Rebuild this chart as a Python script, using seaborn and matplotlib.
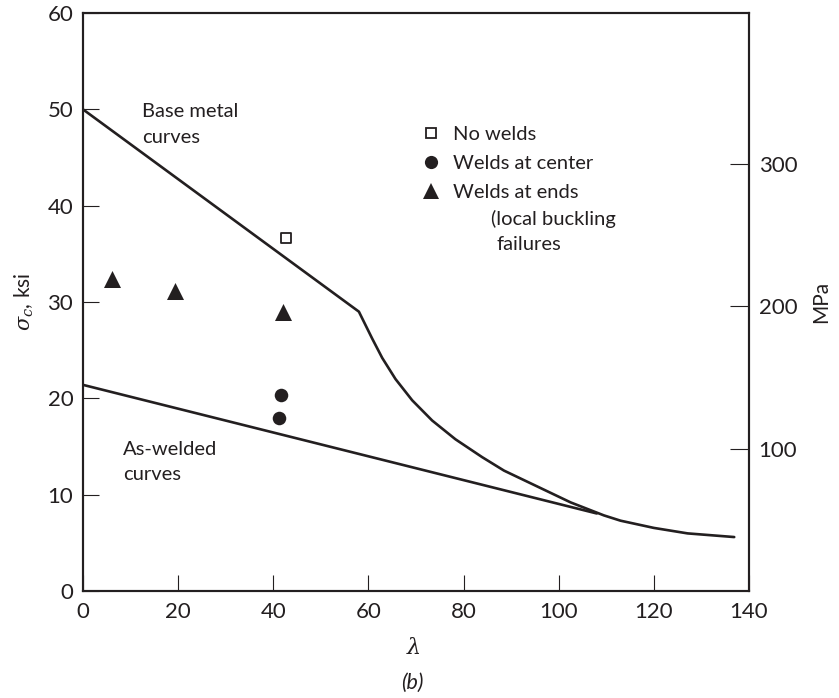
import matplotlib
matplotlib.use("Agg")
import matplotlib.pyplot as plt
from matplotlib.lines import Line2D
import seaborn as sns
import pandas as pd

# ---- data ----
base_lambda = [0, 58, 60.8, 62.9, 65.7, 69.2, 73.4, 78.3, 83.9, 88.5,
               95.5, 102.5, 109.5, 113, 120, 127.1, 136.9]
base_sigma = [50.0, 29.0, 26.2, 24.2, 22.0, 19.8, 17.7, 15.75, 13.9, 12.5,
              10.85, 9.2, 7.85, 7.3, 6.55, 5.98, 5.6]

welded_lambda = [0, 108]
welded_sigma = [21.4, 8.05]

nowelds_lambda = [42.7]
nowelds_sigma = [36.6]

center_lambda = [41.7, 41.3]
center_sigma = [20.3, 18.0]

ends_lambda = [6.1, 19.4, 42.1]
ends_sigma = [32.4, 31.1, 29.0]

x_ticks = [0, 20, 40, 60, 80, 100, 120, 140]
y_ticks = [0, 10, 20, 30, 40, 50, 60]
mpa_ticks = [100, 200, 300]
ksi_to_mpa = 6.76

INK = "#231f20"

sns.set_theme(style="ticks")
plt.rcParams["font.family"] = ["Lato", "DejaVu Sans"]
plt.rcParams["mathtext.fontset"] = "dejavuserif"

fig = plt.figure(figsize=(8.39, 6.98), dpi=100)
ax = fig.add_axes([0.0989, 0.1533, 0.7938, 0.828])

base_df = pd.DataFrame({"lam": base_lambda, "sig": base_sigma})
weld_df = pd.DataFrame({"lam": welded_lambda, "sig": welded_sigma})
sns.lineplot(data=base_df, x="lam", y="sig", ax=ax, color=INK, lw=1.9,
             sort=False, estimator=None)
sns.lineplot(data=weld_df, x="lam", y="sig", ax=ax, color=INK, lw=1.9,
             sort=False, estimator=None)

sns.scatterplot(x=nowelds_lambda, y=nowelds_sigma, ax=ax, marker="s", s=55,
                facecolor="white", edgecolor=INK, linewidth=1.3, zorder=5)
sns.scatterplot(x=center_lambda, y=center_sigma, ax=ax, marker="o", s=95,
                color=INK, edgecolor=INK, linewidth=0, zorder=5)
sns.scatterplot(x=ends_lambda, y=ends_sigma, ax=ax, marker="^", s=150,
                color=INK, edgecolor=INK, linewidth=0, zorder=5)

ax.set_xlim(0, 140)
ax.set_ylim(0, 60)
ax.set_xticks(x_ticks)
ax.set_yticks(y_ticks)
ax.tick_params(axis="both", direction="in", length=11.5, width=0.8,
               colors=INK, labelsize=16, pad=8, top=False, right=False)
ax.tick_params(axis="y", pad=7)
for sp in ax.spines.values():
    sp.set_linewidth(1.5)
    sp.set_color(INK)

ax.set_xlabel("")
ax.set_ylabel(r"$\sigma_c$, ksi", fontsize=15, color=INK, labelpad=8)

ax2 = ax.twinx()
ax2.set_ylim(0, 60 * ksi_to_mpa)
ax2.set_yticks(mpa_ticks)
ax2.tick_params(axis="y", direction="in", length=14, width=0.8, colors=INK,
                labelsize=16, pad=7)
for sp in ax2.spines.values():
    sp.set_linewidth(1.5)
    sp.set_color(INK)
ax2.set_ylabel("MPa", fontsize=15, color=INK, labelpad=10)

# curve annotations
ax.text(12.4, 49.2, "Base metal", fontsize=14.5, color=INK, va="baseline")
ax.text(12.4, 46.55, "curves", fontsize=14.5, color=INK, va="baseline")
ax.text(8.5, 14.1, "As-welded", fontsize=14.5, color=INK, va="baseline")
ax.text(8.5, 11.5, "curves", fontsize=14.5, color=INK, va="baseline")

# legend
handles = [
    Line2D([], [], marker="s", ls="none", ms=7, mfc="white", mec=INK, mew=1.3),
    Line2D([], [], marker="o", ls="none", ms=9.5, mfc=INK, mec=INK, mew=0),
    Line2D([], [], marker="^", ls="none", ms=12, mfc=INK, mec=INK, mew=0),
]
labels = ["No welds", "Welds at center", "Welds at ends"]
leg = ax.legend(handles, labels, loc="upper left", bbox_to_anchor=(0.508, 0.805),
                frameon=False, fontsize=14.5, handlelength=1.0, handletextpad=0.55,
                labelspacing=0.6, borderpad=0, borderaxespad=0)
for t in leg.get_texts():
    t.set_color(INK)

ax.text((490 - 83) / 4.74, (590 - 224) / 9.63, "(local buckling", fontsize=14.5,
        color=INK, va="baseline")
ax.text((495 - 83) / 4.74, (590 - 249) / 9.63, "failures", fontsize=14.5,
        color=INK, va="baseline")

fig.text(413 / 839, 1 - 647 / 698, r"$\lambda$", fontsize=16, color=INK,
         ha="center", va="center")
fig.text(412 / 839, 1 - 683 / 698, "(b)", fontsize=15.5, color=INK, ha="center",
         va="center", style="italic")

fig.savefig("out.png", dpi=100, facecolor="white")
